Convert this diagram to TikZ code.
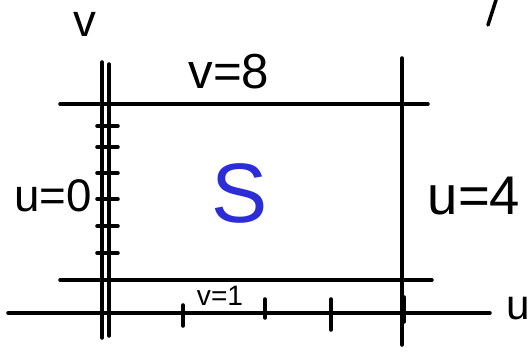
\documentclass[tikz,border=0pt]{standalone}
\usepackage{fontspec}
\setmainfont{Liberation Sans}
\usepackage{xcolor}
\usetikzlibrary{positioning}
\definecolor{penblue}{RGB}{45,45,215}

\begin{document}
\begin{tikzpicture}[x=0.02cm,y=-0.02cm,
  pen/.style={line width=2pt,line cap=round},
  hand/.style={inner sep=0pt}]
  \useasboundingbox (0,0) rectangle (531,354);
  % axes: v doubled on the left, u along the bottom
  \draw[pen] (102,62)--(102,338); \draw[pen] (109,64)--(109,336);
  \draw[pen] (8,313)--(490,313);
  % region bounds v=1, v=8, u=4
  \draw[pen] (60,104)--(428,104);
  \draw[pen] (60,280)--(432,280);
  \draw[pen] (402,58)--(402,345);
  \draw[pen] (496,0)--(488,25);
  % ticks
  \foreach \y in {126,147,173,199,226,253}{\draw[pen] (97,\y)--(118,\y);}
  \foreach \x/\a/\b in {183/305/326, 265/299/318, 331/299/330, 404/297/322}{\draw[pen] (\x,\a)--(\x,\b);}
  \node[hand,font=\fontsize{26}{28}\selectfont] (vlab) at (85,24) {v};
  \node[hand,font=\fontsize{28}{30}\selectfont] (vtop) at (229,72) {v=8};
  \node[hand,font=\fontsize{26}{28}\selectfont] (uleft) at (53,196) {u=0};
  \node[hand,font=\fontsize{31}{33}\selectfont] (uright) at (474,196) {u=4};
  \node[hand,font=\fontsize{48}{50}\selectfont,text=penblue] (S) at (240,193) {S};
  \node[hand,font=\fontsize{16}{18}\selectfont] (vbot) at (220,296) {v=1};
  \node[hand,font=\fontsize{24}{26}\selectfont] (ulab) at (518,309) {u};
\end{tikzpicture}
\end{document}
